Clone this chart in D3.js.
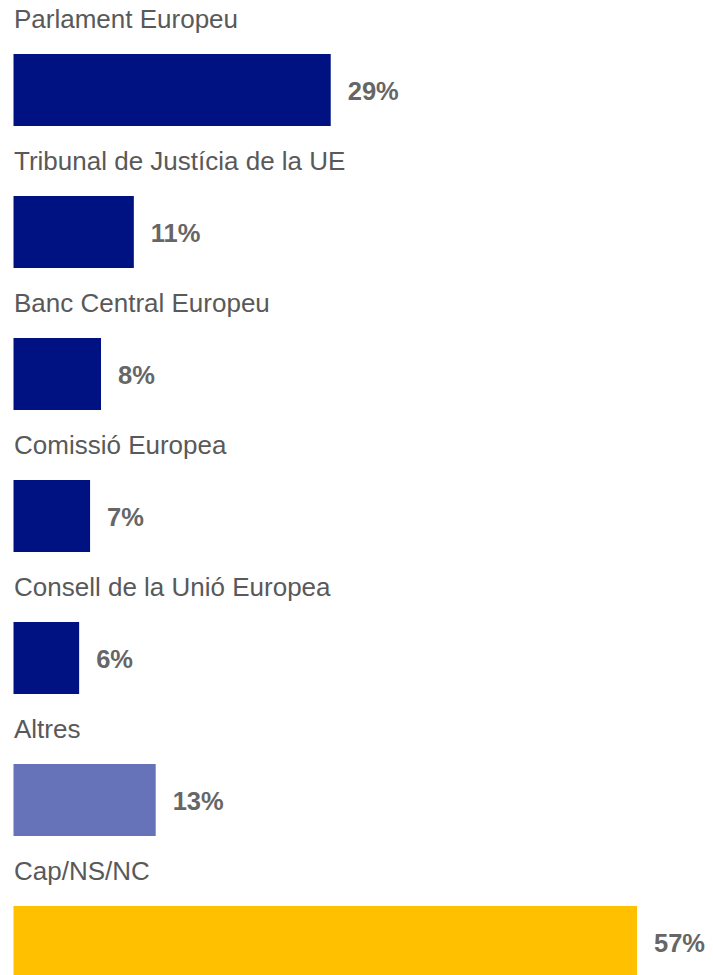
<!DOCTYPE html>
<html>
<head>
<meta charset="utf-8">
<script src="https://cdn.jsdelivr.net/npm/d3@7"></script>
<style>
  html, body { margin: 0; padding: 0; background: #fff; overflow: hidden; }
</style>
</head>
<body>
<svg id="chart" width="713" height="975"></svg>
<script>
const categories = ["Parlament Europeu", "Tribunal de Justícia de la UE", "Banc Central Europeu", "Comissió Europea", "Consell de la Unió Europea", "Altres", "Cap/NS/NC"];
const values = [29, 11, 8, 7, 6, 13, 57];
const valueLabels = ["29%", "11%", "8%", "7%", "6%", "13%", "57%"];
const barColors = ["#001282", "#001282", "#001282", "#001282", "#001282", "#6673b8", "#ffc000"];

const svg = d3.select("#chart");
const x = d3.scaleLinear().domain([0, 57]).range([13.5, 637]);
const y = d3.scaleBand().domain(categories).range([0, 7 * 142]).padding(0);
const barTop = 54, barH = 72, labelBase = 27.5;

const g = svg.selectAll("g.row").data(categories).enter().append("g").attr("class", "row")
  .attr("transform", d => `translate(0,${y(d)})`);

g.append("text")
  .attr("x", 14).attr("y", labelBase)
  .attr("font-family", "Liberation Sans, Arial, sans-serif")
  .attr("font-size", 26).attr("fill", "#595959")
  .text(d => d);

g.append("rect")
  .attr("x", x(0)).attr("y", barTop)
  .attr("width", (d, i) => x(values[i]) - x(0)).attr("height", barH)
  .attr("fill", (d, i) => barColors[i]);

g.append("text")
  .attr("x", (d, i) => x(values[i]) + 17).attr("y", barTop + barH / 2 + 10)
  .attr("font-family", "Liberation Sans, Arial, sans-serif")
  .attr("font-size", 25.5).attr("font-weight", "bold").attr("fill", "#666666")
  .text((d, i) => valueLabels[i]);
</script>
</body>
</html>
